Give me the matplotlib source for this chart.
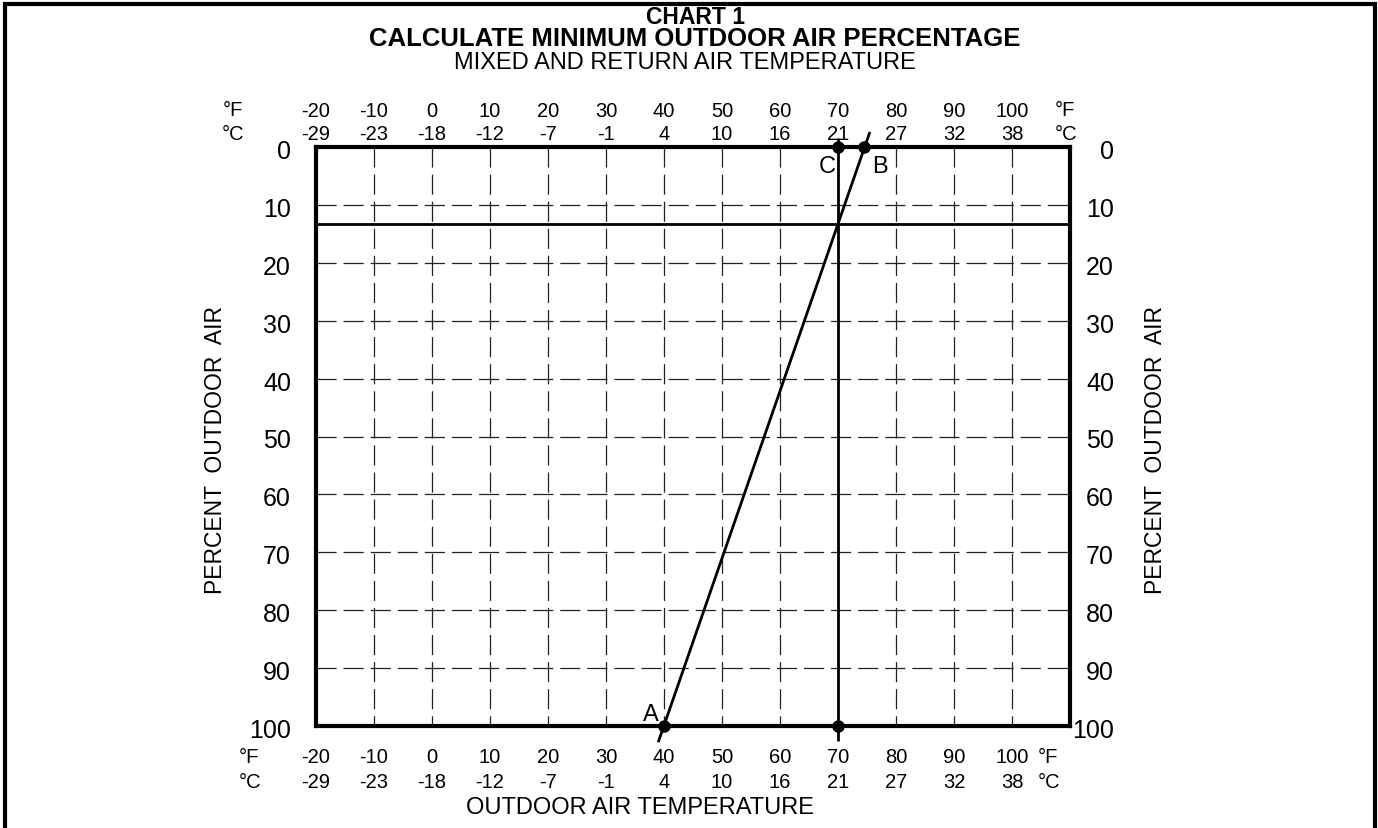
import matplotlib
matplotlib.use("Agg")
import matplotlib.pyplot as plt
import matplotlib.transforms as mtransforms
from matplotlib.lines import Line2D

plt.rcParams['font.family'] = ['Liberation Sans', 'DejaVu Sans']
plt.rcParams['lines.scale_dashes'] = False

# ---------------- data ----------------
fahrenheit = [-20, -10, 0, 10, 20, 30, 40, 50, 60, 70, 80, 90, 100]
celsius = [-29, -23, -18, -12, -7, -1, 4, 10, 16, 21, 27, 32, 38]
percent = [0, 10, 20, 30, 40, 50, 60, 70, 80, 90, 100]
x_limits = [-20, 110]
grid_temps = [-10, 0, 10, 20, 30, 40, 50, 60, 70, 80, 90, 100]
grid_pcts = [10, 20, 30, 40, 50, 60, 70, 80, 90]

# line from A (outdoor air temp) through B (return air temp)
ab_temp = [39.0, 75.5]
ab_pct = [102.8, -2.6]
# mixed air temperature (C) vertical line
mixed_temp = [70, 70]
mixed_pct = [-1.5, 102.6]
# resulting minimum outdoor air percentage
min_oa_pct = 13.3

point_temp = [40, 70, 74.5, 70]
point_pct = [100, 0, 0, 100]
point_labels = ['A', 'C', 'B', '']
label_offsets_px = [(-13, -12), (-11, 19), (16, 19), (0, 0)]

W, H = 1378, 829
fig = plt.figure(figsize=(W / 100, H / 100), dpi=100)
ax = fig.add_axes([316 / W, 1 - 727 / H, (1070 - 316) / W, (727 - 148) / H])
ax.set_xlim(x_limits)
ax.set_ylim(100, 0)
ax.set_xticks([])
ax.set_yticks([])
for s in ax.spines.values():
    s.set_linewidth(3.0)
    s.set_color('black')

dash = (0, (14.5, 5.0))
ax.vlines(grid_temps, 0, 100, colors='#222222', linewidth=0.9, linestyles=[dash])
ax.hlines(grid_pcts, x_limits[0], x_limits[1], colors='#222222', linewidth=0.9, linestyles=[dash])

ax.axhline(min_oa_pct, color='black', linewidth=2.0)
ax.plot(mixed_temp, mixed_pct, color='black', linewidth=2.0, clip_on=False, solid_capstyle='butt')
ax.plot(ab_temp, ab_pct, color='black', linewidth=2.0, clip_on=False, solid_capstyle='butt')
ax.plot(point_temp, point_pct, 'o', color='black', markersize=8, clip_on=False, zorder=5)

for t, p, lab, (dx, dy) in zip(point_temp, point_pct, point_labels, label_offsets_px):
    if lab:
        ax.annotate(lab, (t, p), xytext=(dx * 0.72, -dy * 0.72), textcoords='offset points',
                    ha='center', va='center', fontsize=17, annotation_clip=False)

px = 0.72  # points per pixel at dpi 100

def off(tr, dx_px, dy_px):
    return mtransforms.offset_copy(tr, fig=fig, x=dx_px * px, y=dy_px * px, units='points')

xb = ax.get_xaxis_transform()   # x data, y axes
yb = ax.get_yaxis_transform()   # x axes, y data

# temperature tick labels, top and bottom
for f, c in zip(fahrenheit, celsius):
    ax.text(f, 1, str(f), transform=off(xb, 0, 36.5), ha='center', va='center', fontsize=14.5)
    ax.text(f, 1, str(c), transform=off(xb, 0, 14), ha='center', va='center', fontsize=14.5)
    ax.text(f, 0, str(f), transform=off(xb, 0, -31), ha='center', va='center', fontsize=14.5)
    ax.text(f, 0, str(c), transform=off(xb, 0, -56), ha='center', va='center', fontsize=14.5)

# percent tick labels, left and right
for p in percent:
    ax.text(0, p, str(p), transform=off(yb, -25, -4), ha='right', va='center', fontsize=18)
    ax.text(1, p, str(p), transform=off(yb, 44, -4), ha='right', va='center', fontsize=18)

def ftext(xp, yp, s, **kw):
    fig.text(xp / W, 1 - yp / H, s, **kw)

# unit markers
ftext(232.5, 111, '°F', ha='center', va='center', fontsize=14.5)
ftext(233.5, 134, '°C', ha='center', va='center', fontsize=14.5)
ftext(1065, 111, '°F', ha='center', va='center', fontsize=14.5)
ftext(1066, 134, '°C', ha='center', va='center', fontsize=14.5)
ftext(249, 758, '°F', ha='center', va='center', fontsize=14.5)
ftext(250, 783, '°C', ha='center', va='center', fontsize=14.5)
ftext(1048, 758, '°F', ha='center', va='center', fontsize=14.5)
ftext(1049, 783, '°C', ha='center', va='center', fontsize=14.5)

# titles
ftext(696, 17, 'CHART 1', ha='center', va='center', fontsize=16.5, fontweight='bold')
ftext(695, 39, 'CALCULATE MINIMUM OUTDOOR AIR PERCENTAGE', ha='center', va='center',
      fontsize=18.5, fontweight='bold')
ftext(685, 63, 'MIXED AND RETURN AIR TEMPERATURE', ha='center', va='center', fontsize=17)
ftext(640, 808, 'OUTDOOR AIR TEMPERATURE', ha='center', va='center', fontsize=17)

ftext(216, 450, 'PERCENT  OUTDOOR  AIR', ha='center', va='center', rotation=90, fontsize=16.5)
ftext(1155, 450, 'PERCENT  OUTDOOR  AIR', ha='center', va='center', rotation=90, fontsize=16.5)

# outer page frame
fx = [5 / W, 5 / W, 1374.5 / W, 1374.5 / W]
fy = [0, 1 - 5 / H, 1 - 5 / H, 0]
fig.add_artist(Line2D(fx, fy, color='black', linewidth=3.0, solid_joinstyle='miter'))

fig.savefig('out.png', dpi=100)
